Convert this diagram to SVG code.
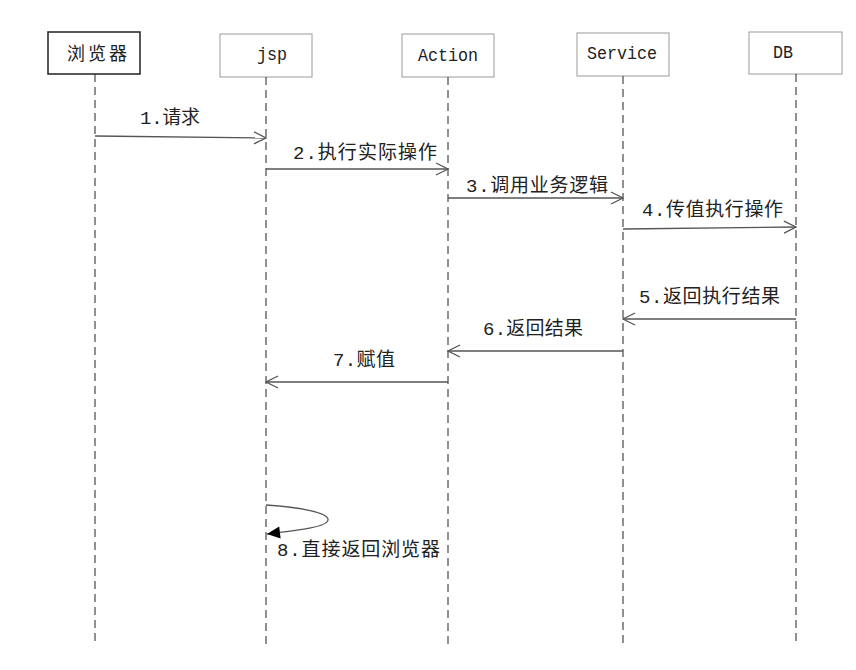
<svg xmlns="http://www.w3.org/2000/svg" width="856" height="670" viewBox="0 0 856 670">
<style>
.box{fill:#fff;stroke:#9a9a9a;stroke-width:1}
.box1{fill:#fff;stroke:#222;stroke-width:1.5}
.life{stroke:#222;stroke-width:1;stroke-dasharray:8 5;fill:none}
.msg{stroke:#555;stroke-width:1.3;fill:none}
.t{font-family:"Liberation Mono","Noto Sans CJK SC",monospace;font-size:18px;fill:#222}
.l{font-family:"Liberation Mono","Noto Sans CJK SC",monospace;font-size:19px;fill:#222}
.c{font-family:"Noto Sans CJK SC",sans-serif;font-size:18px;fill:#222}
</style>
<defs>
<marker id="open" markerUnits="userSpaceOnUse" markerWidth="16" markerHeight="16" viewBox="0 0 16 16" refX="14" refY="8" orient="auto">
<path d="M2,2 L14,8 L2,14" fill="none" stroke="#555" stroke-width="1.3"/>
</marker>
<marker id="solid" markerUnits="userSpaceOnUse" markerWidth="16" markerHeight="16" viewBox="0 0 16 16" refX="14" refY="8" orient="auto">
<path d="M1,2 L14,8 L1,14 Z" fill="#000"/>
</marker>
</defs>
<g id="node-browser">
<rect class="box1" x="48" y="32" width="92" height="42"/>
<text class="c" x="67" y="60" textLength="60" lengthAdjust="spacing">浏览器</text>
</g>
<g id="node-jsp">
<rect class="box" x="220" y="34" width="92" height="43"/>
<text class="t" x="257" y="60" textLength="30" lengthAdjust="spacingAndGlyphs">jsp</text>
</g>
<g id="node-action">
<rect class="box" x="402" y="34" width="92" height="43"/>
<text class="t" x="418" y="61" textLength="60" lengthAdjust="spacingAndGlyphs">Action</text>
</g>
<g id="node-service">
<rect class="box" x="577" y="33" width="92" height="43"/>
<text class="t" x="587" y="59" textLength="70" lengthAdjust="spacingAndGlyphs">Service</text>
</g>
<g id="node-db">
<rect class="box" x="749" y="32" width="93" height="42"/>
<text class="t" x="773" y="58" textLength="20" lengthAdjust="spacingAndGlyphs">DB</text>
</g>
<g id="lifelines">
<line class="life" x1="95" y1="74" x2="95" y2="646"/>
<line class="life" x1="266" y1="77" x2="266" y2="646"/>
<line class="life" x1="448" y1="77" x2="448" y2="646"/>
<line class="life" x1="623" y1="76" x2="623" y2="646"/>
<line class="life" x1="796" y1="74" x2="796" y2="646"/>
</g>
<g id="connectors">
<line class="msg" x1="95" y1="136" x2="266" y2="138" marker-end="url(#open)"/>
<line class="msg" x1="266" y1="169" x2="448" y2="169" marker-end="url(#open)"/>
<line class="msg" x1="448" y1="198" x2="623" y2="198" marker-end="url(#open)"/>
<line class="msg" x1="623" y1="229" x2="796" y2="227" marker-end="url(#open)"/>
<line class="msg" x1="796" y1="319" x2="623" y2="319" marker-end="url(#open)"/>
<line class="msg" x1="623" y1="351" x2="448" y2="351" marker-end="url(#open)"/>
<line class="msg" x1="448" y1="382" x2="266" y2="382" marker-end="url(#open)"/>
<path class="msg" d="M266,505 C300,507 329,513 328,520 C327,527 300,530 267,534" marker-end="url(#solid)"/>
</g>
<g id="labels">
<text class="l" x="140" y="124" textLength="60" lengthAdjust="spacing">1.请求</text>
<text class="l" x="293" y="159" textLength="144" lengthAdjust="spacing">2.执行实际操作</text>
<text class="l" x="466" y="192" textLength="142" lengthAdjust="spacing">3.调用业务逻辑</text>
<text class="l" x="642" y="216" textLength="141" lengthAdjust="spacing">4.传值执行操作</text>
<text class="l" x="639" y="303" textLength="141" lengthAdjust="spacing">5.返回执行结果</text>
<text class="l" x="483" y="335" textLength="100" lengthAdjust="spacing">6.返回结果</text>
<text class="l" x="333" y="366" textLength="62" lengthAdjust="spacing">7.赋值</text>
<text class="l" x="277" y="556" textLength="163" lengthAdjust="spacing">8.直接返回浏览器</text>
</g>
</svg>
